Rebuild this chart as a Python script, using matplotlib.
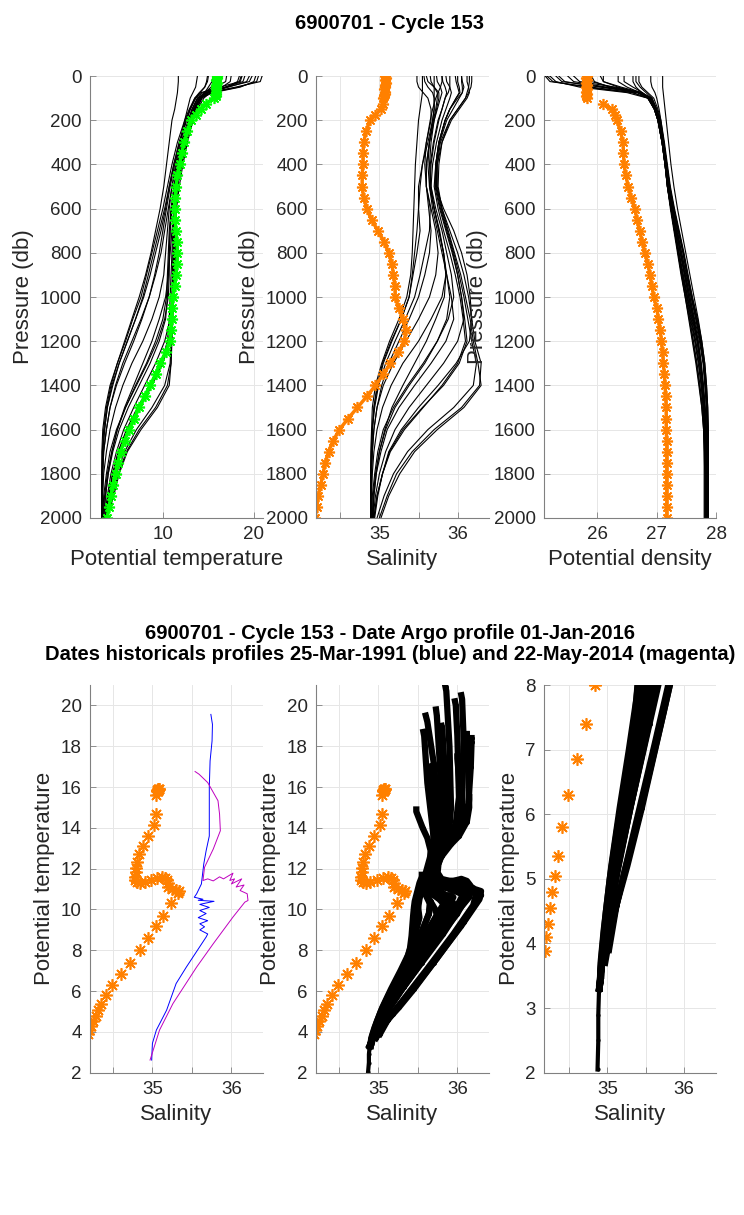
import matplotlib
matplotlib.use('Agg')
import matplotlib.pyplot as plt

plt.rcParams['font.family'] = ['Liberation Sans', 'DejaVu Sans']

# ---- Argo profile (cycle 153) ----
argo_pres = [0, 10, 20, 30, 40, 50, 60, 70, 80, 90, 100, 125, 150, 175, 200,
             250, 300, 350, 400, 450, 500, 550, 600, 650, 700, 750, 800, 850,
             900, 950, 1000, 1050, 1100, 1150, 1200, 1250, 1300, 1350, 1400,
             1450, 1500, 1550, 1600, 1650, 1700, 1750, 1800, 1850, 1900, 1950, 2000]
argo_temp = [15.9, 15.92, 15.88, 15.9, 15.85, 15.87, 15.84, 15.86, 15.82, 15.8, 15.6,
             14.7, 14.15, 13.6, 13.1, 12.7, 12.35, 12.05, 11.85, 11.6, 11.45, 11.35,
             11.3, 11.35, 11.45, 11.55, 11.6, 11.55, 11.45, 11.3, 11.1, 11.0, 10.95,
             10.9, 10.8, 10.3, 9.7, 9.2, 8.6, 8.0, 7.4, 6.85, 6.3, 5.8, 5.35, 5.05,
             4.8, 4.55, 4.3, 4.1, 3.88]
argo_sal = [35.07, 35.08, 35.07, 35.08, 35.07, 35.07, 35.06, 35.07, 35.07, 35.06, 35.05,
            35.04, 35.02, 34.95, 34.88, 34.83, 34.8, 34.79, 34.79, 34.78, 34.78, 34.8,
            34.84, 34.9, 34.98, 35.06, 35.12, 35.16, 35.18, 35.2, 35.2, 35.25, 35.3,
            35.34, 35.32, 35.24, 35.14, 35.05, 34.95, 34.84, 34.72, 34.6, 34.49, 34.41,
            34.35, 34.31, 34.28, 34.25, 34.22, 34.2, 34.18]
argo_dens = [25.82, 25.8, 25.83, 25.81, 25.82, 25.8, 25.83, 25.81, 25.82, 25.8, 25.83,
             26.1, 26.24, 26.29, 26.33, 26.39, 26.43, 26.44, 26.45, 26.48, 26.52, 26.57,
             26.63, 26.67, 26.71, 26.76, 26.8, 26.85, 26.89, 26.92, 26.95, 27.0, 27.03,
             27.06, 27.08, 27.1, 27.11, 27.13, 27.14, 27.15, 27.16, 27.16, 27.16, 27.17,
             27.17, 27.17, 27.17, 27.17, 27.17, 27.17, 27.17]

# ---- historical reference profiles ----
hist_pres = [0, 25, 50, 75, 100, 150, 200, 300, 400, 500, 600, 700, 800, 900, 1000,
             1100, 1200, 1300, 1400, 1500, 1600, 1700, 1800, 1900, 2000]
hist_temp = [
    [20.9, 20.7, 18.0, 15.0, 14.0, 13.4, 13.0, 12.4, 11.9, 11.5, 11.2, 11.0, 10.8, 10.6, 10.3, 9.6, 8.8, 7.8, 6.8, 5.8, 5.0, 4.4, 4.0, 3.7, 3.5],
    [19.8, 19.5, 17.0, 14.6, 13.8, 13.2, 12.8, 12.0, 11.5, 11.0, 10.6, 10.2, 9.8, 9.2, 8.5, 7.6, 6.6, 5.6, 4.8, 4.2, 3.8, 3.5, 3.4, 3.35, 3.3],
    [18.7, 18.5, 16.2, 14.2, 13.5, 13.0, 12.6, 11.8, 11.2, 10.7, 10.2, 9.6, 9.0, 8.4, 7.8, 7.0, 6.1, 5.2, 4.5, 3.9, 3.6, 3.4, 3.35, 3.3, 3.3],
    [20.2, 20.0, 18.5, 15.5, 14.2, 13.5, 13.1, 12.5, 12.0, 11.6, 11.3, 11.2, 11.2, 11.1, 11.0, 10.8, 10.2, 9.2, 8.0, 6.8, 5.7, 4.9, 4.3, 3.9, 3.6],
    [18.6, 18.4, 17.0, 15.0, 14.3, 13.6, 13.2, 12.6, 12.1, 11.6, 11.4, 11.4, 11.5, 11.4, 11.2, 11.0, 10.6, 9.8, 8.6, 7.2, 6.0, 5.1, 4.5, 4.1, 3.8],
    [18.4, 18.2, 17.0, 15.2, 14.5, 13.8, 13.3, 12.7, 12.2, 11.8, 11.5, 11.4, 11.4, 11.3, 11.2, 11.1, 11.0, 10.9, 10.5, 9.2, 7.4, 6.0, 5.1, 4.5, 3.9],
    [15.5, 15.4, 15.0, 14.6, 14.3, 13.7, 13.3, 12.6, 12.0, 11.6, 11.3, 11.2, 11.2, 11.15, 11.1, 11.0, 10.95, 10.9, 10.7, 9.4, 7.6, 6.1, 5.2, 4.6, 3.9],
    [14.9, 14.8, 14.6, 14.0, 13.5, 12.9, 12.4, 11.6, 11.0, 10.5, 10.0, 9.4, 8.8, 8.2, 7.6, 6.7, 5.9, 5.0, 4.3, 3.8, 3.5, 3.35, 3.3, 3.3, 3.3],
    [16.5, 16.4, 15.8, 14.8, 14.0, 13.4, 13.0, 12.3, 11.8, 11.3, 10.9, 10.7, 10.6, 10.5, 10.4, 10.0, 9.2, 8.2, 7.0, 5.9, 5.0, 4.4, 3.9, 3.6, 3.4],
    [17.5, 17.4, 16.5, 15.0, 14.1, 13.5, 13.1, 12.5, 12.0, 11.5, 11.2, 11.1, 11.0, 10.9, 10.8, 10.7, 10.5, 9.8, 8.8, 7.5, 6.2, 5.2, 4.5, 4.0, 3.7],
    [13.8, 13.7, 13.6, 13.3, 13.0, 12.7, 12.4, 11.9, 11.4, 11.0, 10.7, 10.5, 10.3, 10.1, 9.6, 8.8, 7.8, 6.6, 5.6, 4.8, 4.2, 3.8, 3.5, 3.4, 3.3],
    [11.7, 11.7, 11.65, 11.6, 11.5, 11.3, 11.0, 10.7, 10.4, 10.1, 9.7, 9.2, 8.7, 8.1, 7.4, 6.6, 5.8, 5.0, 4.2, 3.7, 3.4, 3.3, 3.3, 3.3, 3.3],
    [19.0, 18.8, 16.8, 14.8, 13.9, 13.3, 12.9, 12.2, 11.7, 11.3, 11.0, 10.8, 10.7, 10.6, 10.5, 10.3, 9.6, 8.6, 7.4, 6.2, 5.2, 4.5, 4.0, 3.7, 3.5],
    [16.0, 15.9, 15.3, 14.6, 14.1, 13.5, 13.1, 12.5, 12.0, 11.6, 11.4, 11.3, 11.3, 11.2, 11.1, 11.0, 10.9, 10.8, 10.2, 8.8, 7.1, 5.8, 4.9, 4.3, 3.7],
    [17.0, 16.9, 15.8, 14.4, 13.6, 13.0, 12.6, 11.9, 11.3, 10.8, 10.4, 10.0, 9.6, 9.1, 8.5, 7.7, 6.8, 5.8, 4.9, 4.2, 3.8, 3.5, 3.4, 3.3, 3.3],
    [20.5, 20.3, 18.3, 15.3, 14.1, 13.4, 13.0, 12.4, 11.9, 11.5, 11.3, 11.2, 11.1, 11.05, 11.0, 10.9, 10.7, 10.0, 8.8, 7.4, 6.1, 5.1, 4.5, 4.0, 3.7],
    [15.0, 14.9, 14.6, 14.1, 13.6, 13.0, 12.5, 11.8, 11.2, 10.7, 10.3, 9.8, 9.2, 8.6, 7.9, 7.0, 6.1, 5.2, 4.4, 3.9, 3.6, 3.4, 3.3, 3.3, 3.3],
    [19.5, 19.2, 17.2, 14.8, 13.8, 13.2, 12.8, 12.1, 11.6, 11.2, 10.9, 10.8, 10.7, 10.7, 10.6, 10.2, 9.4, 8.3, 7.1, 5.9, 4.9, 4.2, 3.8, 3.5, 3.4],
]
hist_sal = [
    [35.85, 35.86, 35.9, 35.92, 35.9, 35.85, 35.8, 35.73, 35.68, 35.66, 35.7, 35.76, 35.82, 35.85, 35.83, 35.72, 35.6, 35.45, 35.3, 35.16, 35.07, 35.0, 34.96, 34.93, 34.92],
    [35.73, 35.74, 35.78, 35.8, 35.78, 35.74, 35.7, 35.64, 35.6, 35.6, 35.63, 35.66, 35.64, 35.58, 35.5, 35.38, 35.25, 35.12, 35.03, 34.97, 34.93, 34.91, 34.9, 34.9, 34.9],
    [35.57, 35.58, 35.62, 35.68, 35.7, 35.7, 35.68, 35.62, 35.55, 35.5, 35.5, 35.52, 35.48, 35.43, 35.38, 35.28, 35.16, 35.05, 34.98, 34.93, 34.91, 34.9, 34.89, 34.89, 34.89],
    [35.97, 35.98, 36.0, 36.02, 35.98, 35.9, 35.84, 35.76, 35.72, 35.72, 35.78, 35.86, 35.94, 36.0, 36.05, 36.08, 36.0, 35.82, 35.6, 35.38, 35.2, 35.08, 35.0, 34.95, 34.92],
    [36.12, 36.12, 36.14, 36.15, 36.12, 36.02, 35.92, 35.8, 35.74, 35.72, 35.82, 35.95, 36.05, 36.12, 36.16, 36.18, 36.15, 35.98, 35.75, 35.5, 35.28, 35.12, 35.04, 34.98, 34.94],
    [36.18, 36.18, 36.17, 36.14, 36.1, 36.0, 35.9, 35.8, 35.76, 35.75, 35.8, 35.9, 36.0, 36.08, 36.14, 36.18, 36.22, 36.3, 36.28, 36.05, 35.7, 35.42, 35.22, 35.1, 35.0],
    [36.15, 36.15, 36.14, 36.12, 36.1, 36.0, 35.9, 35.78, 35.74, 35.74, 35.8, 35.88, 35.96, 36.04, 36.1, 36.16, 36.2, 36.26, 36.3, 36.08, 35.74, 35.45, 35.26, 35.12, 35.02],
    [35.48, 35.48, 35.5, 35.56, 35.62, 35.66, 35.66, 35.6, 35.55, 35.52, 35.5, 35.48, 35.45, 35.42, 35.38, 35.28, 35.15, 35.04, 34.97, 34.93, 34.91, 34.9, 34.89, 34.89, 34.89],
    [35.9, 35.9, 35.9, 35.88, 35.84, 35.8, 35.76, 35.7, 35.66, 35.65, 35.7, 35.76, 35.82, 35.86, 35.9, 35.86, 35.74, 35.58, 35.38, 35.2, 35.08, 35.0, 34.95, 34.92, 34.91],
    [36.0, 36.0, 36.02, 36.03, 35.98, 35.9, 35.84, 35.76, 35.72, 35.7, 35.75, 35.82, 35.9, 35.97, 36.03, 36.07, 36.1, 36.0, 35.8, 35.56, 35.32, 35.14, 35.04, 34.97, 34.93],
    [35.7, 35.7, 35.7, 35.7, 35.7, 35.7, 35.68, 35.64, 35.62, 35.64, 35.7, 35.77, 35.82, 35.85, 35.8, 35.66, 35.5, 35.3, 35.15, 35.04, 34.97, 34.93, 34.91, 34.9, 34.9],
    [35.55, 35.55, 35.55, 35.55, 35.54, 35.52, 35.5, 35.48, 35.46, 35.45, 35.44, 35.43, 35.42, 35.4, 35.35, 35.25, 35.13, 35.03, 34.95, 34.91, 34.9, 34.89, 34.89, 34.89, 34.89],
    [35.8, 35.81, 35.84, 35.86, 35.84, 35.8, 35.75, 35.69, 35.65, 35.64, 35.68, 35.74, 35.8, 35.86, 35.92, 35.95, 35.85, 35.66, 35.45, 35.25, 35.1, 35.02, 34.96, 34.93, 34.91],
    [36.05, 36.05, 36.06, 36.06, 36.02, 35.94, 35.86, 35.77, 35.73, 35.73, 35.79, 35.87, 35.95, 36.02, 36.08, 36.13, 36.18, 36.24, 36.2, 35.95, 35.62, 35.36, 35.18, 35.06, 34.97],
    [35.65, 35.66, 35.7, 35.74, 35.74, 35.72, 35.69, 35.64, 35.6, 35.6, 35.66, 35.72, 35.75, 35.72, 35.64, 35.5, 35.34, 35.18, 35.05, 34.97, 34.93, 34.91, 34.9, 34.89, 34.89],
    [36.05, 36.06, 36.08, 36.06, 36.0, 35.9, 35.84, 35.76, 35.72, 35.71, 35.77, 35.85, 35.93, 36.0, 36.05, 36.09, 36.12, 36.02, 35.82, 35.55, 35.3, 35.13, 35.04, 34.97, 34.93],
    [35.8, 35.8, 35.78, 35.75, 35.72, 35.68, 35.65, 35.6, 35.58, 35.6, 35.65, 35.64, 35.58, 35.52, 35.45, 35.33, 35.2, 35.08, 34.99, 34.94, 34.91, 34.9, 34.89, 34.89, 34.89],
    [35.6, 35.62, 35.7, 35.76, 35.76, 35.73, 35.7, 35.66, 35.64, 35.66, 35.72, 35.8, 35.86, 35.92, 35.95, 35.88, 35.74, 35.56, 35.36, 35.18, 35.05, 34.98, 34.94, 34.91, 34.9],
]
hist_dens = [
    [25.12, 25.2, 25.9, 26.6, 26.85, 26.97, 27.03, 27.1, 27.15, 27.19, 27.25, 27.32, 27.4, 27.48, 27.56, 27.63, 27.7, 27.75, 27.78, 27.8, 27.82, 27.83, 27.84, 27.84, 27.84],
    [25.3, 25.4, 26.1, 26.7, 26.9, 27.0, 27.05, 27.11, 27.16, 27.2, 27.27, 27.34, 27.42, 27.5, 27.58, 27.66, 27.74, 27.79, 27.82, 27.84, 27.85, 27.86, 27.86, 27.86, 27.86],
    [25.6, 25.7, 26.3, 26.75, 26.92, 27.0, 27.06, 27.12, 27.17, 27.22, 27.29, 27.37, 27.45, 27.52, 27.6, 27.68, 27.75, 27.8, 27.83, 27.85, 27.86, 27.87, 27.87, 27.87, 27.87],
    [25.2, 25.3, 25.7, 26.5, 26.85, 26.96, 27.02, 27.09, 27.14, 27.18, 27.24, 27.3, 27.37, 27.44, 27.52, 27.6, 27.68, 27.73, 27.77, 27.8, 27.82, 27.83, 27.83, 27.83, 27.83],
    [25.85, 25.9, 26.25, 26.7, 26.88, 26.98, 27.03, 27.1, 27.15, 27.19, 27.25, 27.31, 27.37, 27.43, 27.5, 27.57, 27.64, 27.7, 27.75, 27.78, 27.8, 27.81, 27.82, 27.82, 27.82],
    [25.9, 25.95, 26.2, 26.68, 26.87, 26.97, 27.02, 27.09, 27.14, 27.18, 27.23, 27.29, 27.35, 27.41, 27.48, 27.55, 27.61, 27.67, 27.72, 27.76, 27.79, 27.8, 27.8, 27.8, 27.8],
    [26.6, 26.6, 26.65, 26.75, 26.85, 26.96, 27.02, 27.09, 27.14, 27.18, 27.24, 27.3, 27.36, 27.42, 27.48, 27.54, 27.6, 27.66, 27.71, 27.76, 27.79, 27.8, 27.81, 27.81, 27.81],
    [26.7, 26.7, 26.75, 26.85, 26.95, 27.02, 27.07, 27.13, 27.18, 27.23, 27.3, 27.38, 27.46, 27.53, 27.6, 27.69, 27.76, 27.81, 27.84, 27.86, 27.87, 27.87, 27.87, 27.87, 27.87],
    [26.35, 26.35, 26.5, 26.72, 26.87, 26.97, 27.03, 27.1, 27.15, 27.2, 27.26, 27.33, 27.4, 27.47, 27.54, 27.62, 27.69, 27.74, 27.78, 27.81, 27.83, 27.84, 27.84, 27.84, 27.84],
    [26.1, 26.1, 26.35, 26.68, 26.86, 26.96, 27.02, 27.09, 27.14, 27.19, 27.25, 27.31, 27.38, 27.45, 27.52, 27.59, 27.66, 27.72, 27.76, 27.79, 27.81, 27.82, 27.83, 27.83, 27.83],
    [26.9, 26.9, 26.92, 26.97, 27.0, 27.04, 27.07, 27.12, 27.17, 27.22, 27.28, 27.35, 27.42, 27.49, 27.56, 27.64, 27.72, 27.78, 27.81, 27.84, 27.85, 27.86, 27.86, 27.86, 27.86],
    [27.1, 27.1, 27.1, 27.11, 27.12, 27.14, 27.16, 27.2, 27.24, 27.29, 27.35, 27.42, 27.49, 27.56, 27.63, 27.7, 27.76, 27.81, 27.84, 27.86, 27.87, 27.87, 27.87, 27.87, 27.87],
    [25.5, 25.6, 26.15, 26.68, 26.88, 26.98, 27.04, 27.1, 27.16, 27.2, 27.26, 27.33, 27.4, 27.47, 27.54, 27.61, 27.68, 27.74, 27.78, 27.81, 27.83, 27.84, 27.85, 27.85, 27.85],
    [26.45, 26.45, 26.6, 26.76, 26.86, 26.96, 27.02, 27.09, 27.14, 27.18, 27.24, 27.3, 27.36, 27.42, 27.49, 27.56, 27.62, 27.68, 27.73, 27.77, 27.8, 27.81, 27.82, 27.82, 27.82],
    [26.05, 26.1, 26.4, 26.75, 26.9, 26.99, 27.05, 27.11, 27.16, 27.21, 27.28, 27.36, 27.44, 27.51, 27.58, 27.66, 27.73, 27.79, 27.82, 27.84, 27.86, 27.86, 27.86, 27.86, 27.86],
    [25.15, 25.25, 25.8, 26.58, 26.86, 26.96, 27.02, 27.09, 27.14, 27.18, 27.24, 27.3, 27.37, 27.44, 27.51, 27.58, 27.65, 27.71, 27.75, 27.79, 27.81, 27.82, 27.83, 27.83, 27.83],
    [26.65, 26.65, 26.72, 26.82, 26.92, 27.0, 27.06, 27.12, 27.17, 27.22, 27.29, 27.37, 27.45, 27.52, 27.59, 27.67, 27.74, 27.8, 27.83, 27.85, 27.86, 27.87, 27.87, 27.87, 27.87],
    [25.35, 25.45, 26.05, 26.68, 26.9, 26.99, 27.05, 27.11, 27.16, 27.2, 27.26, 27.33, 27.4, 27.47, 27.54, 27.62, 27.7, 27.75, 27.79, 27.82, 27.84, 27.85, 27.85, 27.85, 27.85],
]
# one profile goes deeper than 2000 db
deep_pres = [2000, 2200, 2400, 2600]
deep_temp = [3.3, 2.9, 2.5, 2.05]
deep_sal = [34.89, 34.88, 34.88, 34.87]
deep_dens = [27.87, 27.88, 27.88, 27.89]

# ---- the two closest historical profiles (theta/S) ----
blue_sal = [35.74, 35.76, 35.755, 35.73, 35.72, 35.72, 35.72, 35.68, 35.65, 35.62, 35.56, 35.53,
            35.64, 35.58, 35.78, 35.6, 35.72, 35.6, 35.68, 35.58, 35.7, 35.6, 35.66, 35.6,
            35.7, 35.68, 35.43, 35.3, 35.18, 35.05, 35.0, 34.99]
blue_temp = [19.56, 19.07, 18.26, 17.28, 15.98, 14.67, 13.6, 12.88, 12.23, 11.25, 10.77, 10.6,
             10.5, 10.45, 10.4, 10.25, 10.1, 9.95, 9.8, 9.6, 9.45, 9.3, 9.15, 9.0,
             8.8, 8.65, 7.18, 6.37, 5.07, 4.09, 3.44, 2.62]
mag_sal = [35.54, 35.59, 35.7, 35.83, 35.85, 35.86, 35.77, 35.66, 35.64, 35.7, 35.77, 35.85,
           35.9, 36.02, 35.98, 36.04, 36.0, 36.13, 36.06, 36.16, 36.11, 36.2, 36.21, 36.17,
           36.02, 35.77, 35.56, 35.26, 35.09, 34.97]
mag_temp = [16.76, 16.63, 16.22, 15.33, 14.67, 13.86, 12.96, 12.07, 11.42, 11.5, 11.4, 11.6,
            11.5, 11.78, 11.42, 11.5, 11.25, 11.5, 11.1, 11.2, 10.93, 10.77, 10.44, 10.36,
            9.63, 8.32, 7.18, 5.39, 4.09, 2.62]

float_id = '6900701'
cycle = 153
argo_date = '01-Jan-2016'
hist_dates = ['25-Mar-1991', '22-May-2014']

ORANGE = '#ff8000'
GREEN = '#00ff00'
AXC = '#262626'
STAR = (8, 2, 0)   # matlab-like asterisk

sal_ticks = [34.5, 35, 35.5, 36]
sal_labels = ['', '35', '', '36']


def style(ax):
    for side in ['top', 'right']:
        ax.spines[side].set_visible(False)
    for side in ['left', 'bottom']:
        ax.spines[side].set_color('#808080')
        ax.spines[side].set_linewidth(0.8)
    ax.tick_params(direction='in', length=4, width=0.6, color='#808080',
                   labelcolor=AXC, labelsize=13.5, pad=6)
    ax.grid(True, color='#e6e6e6', lw=0.7)
    ax.set_axisbelow(True)


fig = plt.figure(figsize=(7.44, 12.15), dpi=100)

tb, th = 0.5737, 0.3637
bb, bh = 0.1171, 0.3191
xs = [0.121, 0.4247, 0.7312]
ws = [0.2325, 0.2325, 0.2312]

ax1 = fig.add_axes([xs[0], tb, ws[0], th])
ax2 = fig.add_axes([xs[1], tb, ws[1], th])
ax3 = fig.add_axes([xs[2], tb, ws[2], th])
ax4 = fig.add_axes([xs[0], bb, ws[0], bh])
ax5 = fig.add_axes([xs[1], bb, ws[1], bh])
ax6 = fig.add_axes([xs[2], bb, ws[2], bh])

# top row: profiles vs pressure
for t, s, d in zip(hist_temp, hist_sal, hist_dens):
    ax1.plot(t, hist_pres, color='k', lw=0.8)
    ax2.plot(s, hist_pres, color='k', lw=0.8)
    ax3.plot(d, hist_pres, color='k', lw=0.8)
ax1.plot(deep_temp, deep_pres, color='k', lw=0.8)
ax2.plot(deep_sal, deep_pres, color='k', lw=0.8)
ax3.plot(deep_dens, deep_pres, color='k', lw=0.8)

mk = dict(lw=2.5, marker=STAR, ms=8, mew=1.2)
ax1.plot(argo_temp, argo_pres, color=GREEN, **mk)
ax2.plot(argo_sal, argo_pres, color=ORANGE, **mk)
ax3.plot(argo_dens[:11], argo_pres[:11], color=ORANGE, **mk)
ax3.plot(argo_dens[11:], argo_pres[11:], color=ORANGE, **mk)

for ax in [ax1, ax2, ax3]:
    style(ax)
    ax.set_ylim(2000, 0)
    ax.set_yticks(range(0, 2001, 200))
    ax.set_ylabel('Pressure (db)', fontsize=16, color=AXC, labelpad=4)
ax1.set_xlim(2, 21)
ax1.set_xticks([10, 20])
ax1.set_xlabel('Potential temperature', fontsize=16, color=AXC)
ax2.set_xlim(34.19, 36.4)
ax2.set_xticks(sal_ticks)
ax2.set_xticklabels(sal_labels)
ax2.set_xlabel('Salinity', fontsize=16, color=AXC)
ax3.set_xlim(25.1, 28)
ax3.set_xticks([26, 27, 28])
ax3.set_xlabel('Potential density', fontsize=16, color=AXC)

# bottom row: theta/S diagrams
ax4.plot(blue_sal, blue_temp, color='b', lw=0.7)
ax4.plot(mag_sal, mag_temp, color='m', lw=0.7)
ax4.plot(argo_sal, argo_temp, ls='none', marker=STAR, color=ORANGE, ms=9, mew=1.2)

for ax in [ax5, ax6]:
    for t, s in zip(hist_temp, hist_sal):
        ax.plot(s, t, color='k', lw=4.5, marker='.', ms=5)
    ax.plot(deep_sal, deep_temp, color='k', lw=3, marker='.', ms=4)
    ax.plot(argo_sal, argo_temp, ls='none', marker=STAR, color=ORANGE, ms=9, mew=1.2)

for ax in [ax4, ax5, ax6]:
    style(ax)
    ax.set_xticks(sal_ticks)
    ax.set_xticklabels(sal_labels)
    ax.set_xlabel('Salinity', fontsize=16, color=AXC)
    ax.set_ylabel('Potential temperature', fontsize=16, color=AXC, labelpad=4)
for ax in [ax4, ax5]:
    ax.set_xlim(34.21, 36.4)
    ax.set_ylim(2, 21)
    ax.set_yticks(range(2, 21, 2))
ax6.set_xlim(34.17, 36.42)
ax6.set_ylim(2, 8)
ax6.set_yticks(range(2, 9))

fig.text(0.524, 0.981, f'{float_id} - Cycle {cycle}', ha='center', va='center',
         fontsize=14.5, fontweight='bold')
fig.text(0.524, 0.479, f'{float_id} - Cycle {cycle} - Date Argo profile {argo_date}',
         ha='center', va='center', fontsize=14.5, fontweight='bold')
fig.text(0.524, 0.461, f'Dates historicals profiles {hist_dates[0]} (blue) and '
         f'{hist_dates[1]} (magenta)', ha='center', va='center', fontsize=14.5,
         fontweight='bold')

fig.savefig('out.png', dpi=100)
